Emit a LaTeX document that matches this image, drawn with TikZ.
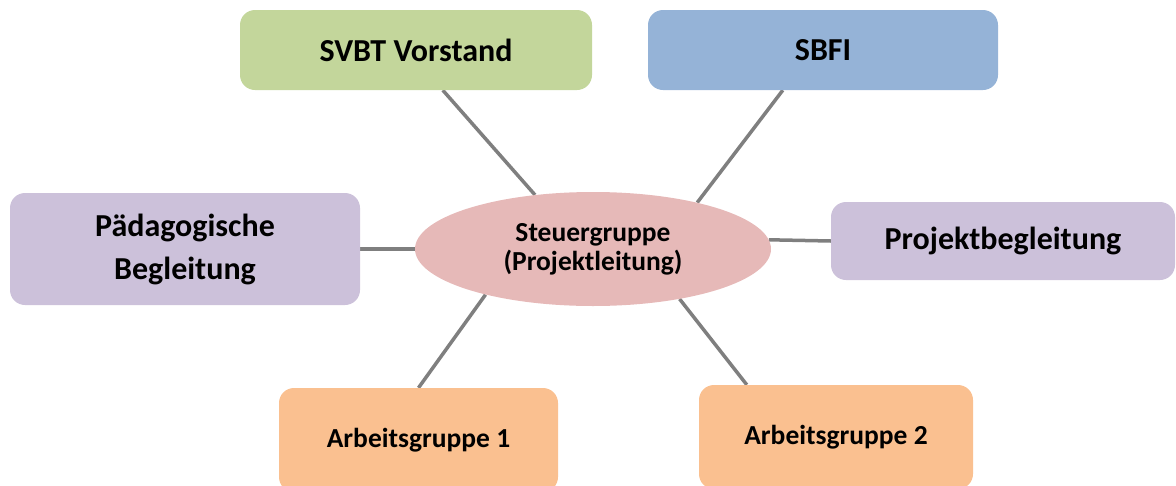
\documentclass[tikz,border=0pt]{standalone}
\usepackage{fontspec}
\setmainfont{Carlito}
\usetikzlibrary{shapes.geometric,calc,backgrounds}

\definecolor{verde}{HTML}{C3D69B}
\definecolor{blu}{HTML}{95B3D7}
\definecolor{lilla}{HTML}{CCC1DA}
\definecolor{arancio}{HTML}{FAC090}
\definecolor{rosa}{HTML}{E6B9B8}
\definecolor{grigio}{HTML}{7F7F7F}

\tikzset{
    box/.style={rounded corners=15pt, align=center, inner sep=0pt,
        font=\fontsize{32}{43}\selectfont\bfseries},
    gruppo/.style={box, font=\fontsize{27.5}{32}\selectfont\bfseries},
    link/.style={draw=grigio, line width=3.5pt}
}

\begin{document}
\begin{tikzpicture}[x=1pt, y=-1pt]
    \useasboundingbox (0,0) rectangle (1176,485);

    % 1. Ellisse centrale (Steuergruppe)
    \node[ellipse, fill=rosa, minimum width=356pt, minimum height=114pt, inner sep=0pt,
        align=center, font=\fontsize{27.5}{29}\selectfont\bfseries] (steuer) at (593,249)
        {Steuergruppe\\(Projektleitung)};

    % 2. Riquadri superiori
    \node[box, fill=verde, minimum width=352pt, minimum height=80pt] (svbt) at (416,50) {SVBT Vorstand};
    \node[box, fill=blu, minimum width=350pt, minimum height=80pt] (sbfi) at (823,50) {SBFI};

    % 3. Riquadri laterali
    \node[box, fill=lilla, minimum width=350pt, minimum height=112pt] (paed) at (185,249) {Pädagogische\\Begleitung};
    \node[box, fill=lilla, minimum width=344pt, minimum height=78pt] (projekt) at (1003,241) {Projektbegleitung};

    % 4. Riquadri inferiori (Arbeitsgruppen) - tagliati in basso
    \node[gruppo, fill=arancio, minimum width=279pt, minimum height=104pt] (ag1) at (418.5,440) {Arbeitsgruppe 1};
    \node[gruppo, fill=arancio, minimum width=274pt, minimum height=104pt] (ag2) at (836,437) {Arbeitsgruppe 2};

    % 5. Collegamenti (dietro ai nodi)
    \begin{pgfonlayer}{background}
        \draw[link] ($(svbt.south west)+(203,0)$) -- (steuer.137);
        \draw[link] ($(sbfi.south west)+(135,0)$) -- (steuer.24);
        \draw[link] (paed.east) -- (steuer.west);
        \draw[link] (projekt.west) -- (steuer.3);
        \draw[link] (ag1.north) -- (steuer.203);
        \draw[link] ($(ag2.north west)+(48,0)$) -- (steuer.330);
    \end{pgfonlayer}

\end{tikzpicture}
\end{document}
